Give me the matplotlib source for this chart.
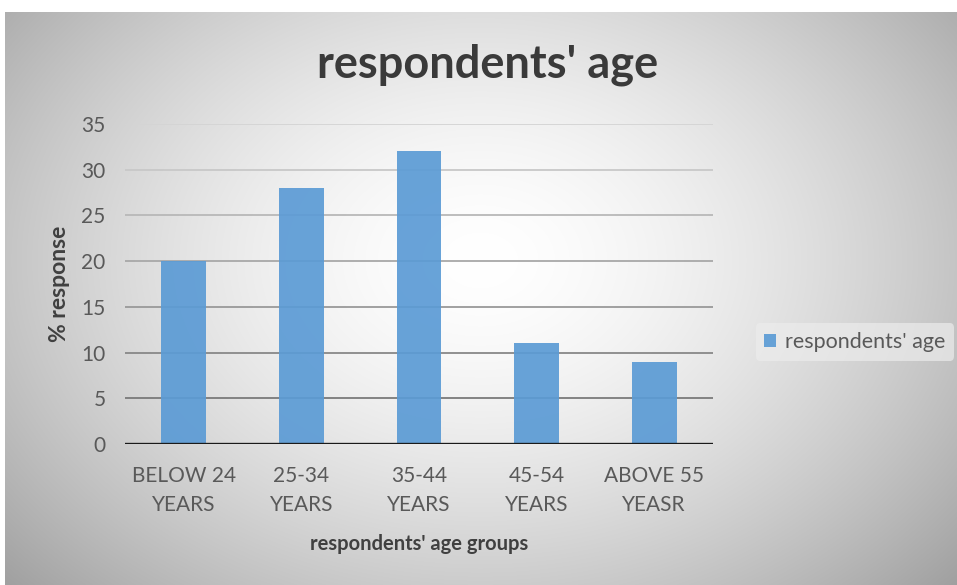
import numpy as np
import matplotlib
matplotlib.use("Agg")
import matplotlib.pyplot as plt

categories = ["BELOW 24\nYEARS", "25-34\nYEARS", "35-44\nYEARS", "45-54\nYEARS", "ABOVE 55\nYEASR"]
values = [20, 28, 32, 11, 9]
yticks = [0, 5, 10, 15, 20, 25, 30, 35]
series_name = "respondents' age"
title = "respondents' age"
xlabel = "respondents' age groups"
ylabel = "% response"

plt.rcParams['font.family'] = ['Lato', 'DejaVu Sans']

W, H = 957, 585
fig = plt.figure(figsize=(W / 100, H / 100), dpi=100)

# background radial gradient
bg = fig.add_axes([0, 0, 1, 1])
bg.set_axis_off()
yy, xx = np.mgrid[0:H, 0:W]
cx, cy = 480, 260
r = np.sqrt(((xx - cx) / 540.0) ** 2 + ((yy - cy) / 400.0) ** 2)
val = 1.0 - 0.28 * np.clip(r, 0, 1.2) ** 1.6
img = np.dstack([val, val, val])
img[:12, :, :] = 1.0
img[:, :5, :] = 1.0
bg.imshow(img, extent=[0, W, H, 0], aspect='auto', interpolation='bilinear')
bg.set_xlim(0, W)
bg.set_ylim(H, 0)

ax = fig.add_axes([125 / W, 1 - 444 / H, (713 - 125) / W, (444 - 124) / H])
ax.patch.set_alpha(0)
x = np.arange(len(categories))
bars = ax.bar(x, values, width=0.38, color='#5b9bd5', alpha=0.92, zorder=3, label=series_name)
ax.set_xlim(-0.5, len(categories) - 0.5)
ax.set_ylim(0, 35)
ax.set_yticks(yticks)
ax.set_yticklabels([str(t) for t in yticks])
grid_cols = ['#7a7a7a', '#888888', '#999999', '#a8a8a8', '#b8b8b8', '#c8c8c8', '#d4d4d4']
for t, c in zip(yticks[1:], grid_cols):
    ax.axhline(t, color=c, lw=1.3, zorder=1)
ax.axhline(0, color='#1a1a1a', lw=2.4, zorder=4)
for s in ax.spines.values():
    s.set_visible(False)
ax.tick_params(axis='both', length=0, labelsize=15, colors='#595959')
ax.tick_params(axis='x', pad=16)
ax.tick_params(axis='y', pad=14)
ax.set_xticks(x)
ax.set_xticklabels(categories, linespacing=1.55)
ax.set_xlabel(xlabel, fontsize=14.5, fontweight='bold', color='#404040', labelpad=14)
ax.set_ylabel(ylabel, fontsize=16.5, fontweight='bold', color='#404040', labelpad=8)

fig.text(488 / W, 1 - 65 / H, title, ha='center', va='center', fontsize=32.5,
         fontweight='bold', color='#3a3a3a')

leg = fig.legend(handles=[bars], labels=[series_name], loc='center left',
                 bbox_to_anchor=(745 / W, 1 - 342 / H), fontsize=15.5,
                 frameon=True, handlelength=0.55, handleheight=0.55, handletextpad=0.4,
                 borderpad=0.4)
leg.get_frame().set_facecolor('#ececec')
leg.get_frame().set_edgecolor('none')
leg.get_frame().set_alpha(0.7)
for t in leg.get_texts():
    t.set_color('#595959')

fig.savefig('out.png', dpi=100)
